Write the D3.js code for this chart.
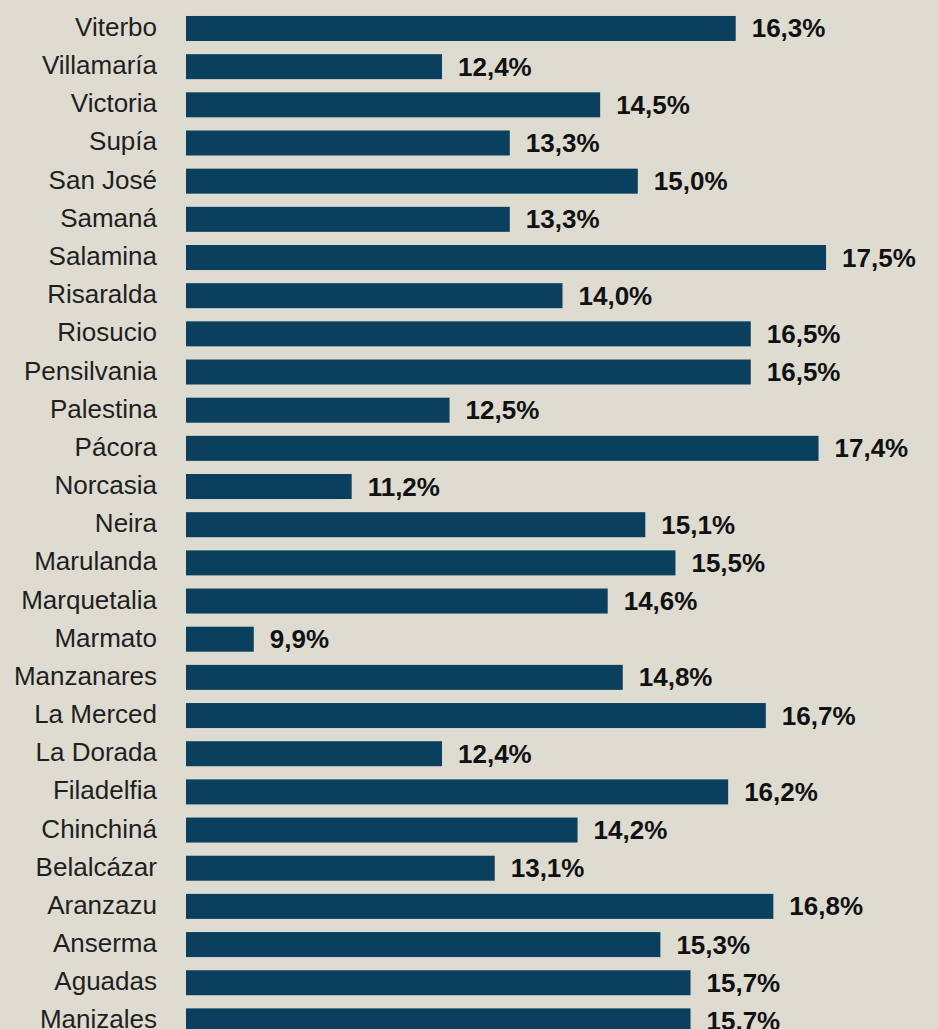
<!DOCTYPE html>
<html>
<head>
<meta charset="utf-8">
<script src="https://cdn.jsdelivr.net/npm/d3@7"></script>
<style>
  html, body { margin: 0; padding: 0; background: #dedbd1; }
  #chart { width: 938px; height: 1029px; overflow: hidden; }
  .label { font-family: "Liberation Sans", Arial, sans-serif; font-size: 26px; fill: #1f1f1f; }
  .value { font-family: "Liberation Sans", Arial, sans-serif; font-size: 26px; font-weight: bold; fill: #111; }
</style>
</head>
<body>
<div id="chart"></div>
<script>
// municipios, top to bottom
const municipios = ["Viterbo", "Villamaría", "Victoria", "Supía", "San José", "Samaná",
  "Salamina", "Risaralda", "Riosucio", "Pensilvania", "Palestina", "Pácora", "Norcasia",
  "Neira", "Marulanda", "Marquetalia", "Marmato", "Manzanares", "La Merced", "La Dorada",
  "Filadelfia", "Chinchiná", "Belalcázar", "Aranzazu", "Anserma", "Aguadas", "Manizales"]

// porcentaje (%)
const valores = [16.3, 12.4, 14.5, 13.3, 15.0, 13.3, 17.5, 14.0, 16.5, 16.5, 12.5, 17.4, 11.2,
  15.1, 15.5, 14.6, 9.9, 14.8, 16.7, 12.4, 16.2, 14.2, 13.1, 16.8, 15.3, 15.7, 15.7]

const xDomain = [9, 18]

const width = 938, height = 1029
const barLeft = 186

const data = municipios.map((m, i) => ({ name: m, value: valores[i] }))

const svg = d3.select("#chart").append("svg")
    .attr("width", width)
    .attr("height", height)

svg.append("rect")
    .attr("width", width).attr("height", height)
    .attr("fill", "#dedbd1")

// axis doesn't start at zero in the original
const x = d3.scaleLinear()
    .domain(xDomain)
    .range([barLeft, barLeft + 9 * 75.3])

const step = 38.17
const y = d3.scaleBand()
    .domain(municipios)
    .range([9.4, 9.4 + step * municipios.length])
    .paddingInner(0.345)
    .paddingOuter(0.1725)

const fmt = v => d3.format(".1f")(v).replace(".", ",") + "%"

const rows = svg.selectAll("g.row")
    .data(data)
    .enter().append("g")
    .attr("class", "row")

rows.append("rect")
    .attr("x", x(xDomain[0]))
    .attr("y", d => y(d.name))
    .attr("width", d => x(d.value) - x(xDomain[0]))
    .attr("height", y.bandwidth())
    .attr("fill", "#0a405e")

rows.append("text")
    .attr("class", "label")
    .attr("x", 157)
    .attr("y", d => y(d.name) + y.bandwidth() / 2 + 7.5)
    .attr("text-anchor", "end")
    .text(d => d.name)

rows.append("text")
    .attr("class", "value")
    .attr("x", d => x(d.value) + 16)
    .attr("y", d => y(d.name) + y.bandwidth() / 2 + 9)
    .text(d => fmt(d.value))
</script>
</body>
</html>
